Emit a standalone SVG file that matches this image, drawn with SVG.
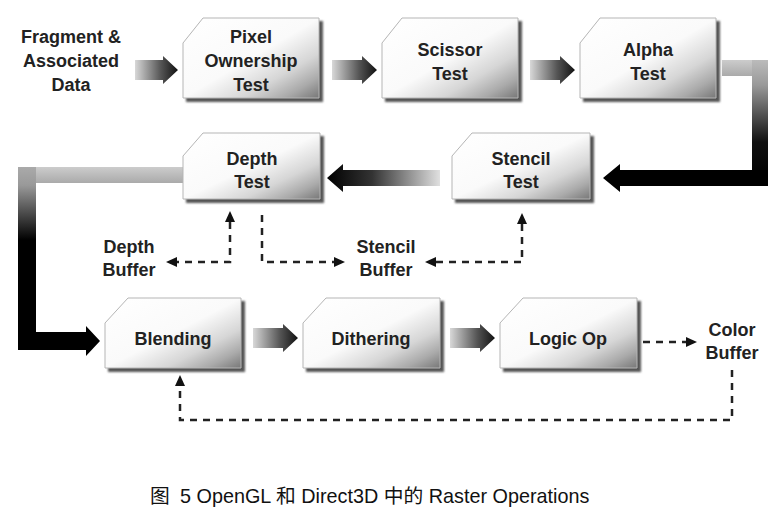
<svg xmlns="http://www.w3.org/2000/svg" width="783" height="515" viewBox="0 0 783 515">
<style>
.lbl{font-family:"Liberation Sans",Arial,sans-serif;font-weight:bold;font-size:18px;fill:#222;text-anchor:middle}
.box{fill:url(#boxg);stroke:#b5b5b5;stroke-width:1}
.shd{fill:#555;filter:url(#blur)}
.dash{fill:none;stroke:#222;stroke-width:2.5;stroke-dasharray:7 6}
.head{fill:#111}
.cap{font-family:"Liberation Sans","Noto Sans CJK SC",sans-serif;font-size:19.8px;fill:#111}
</style>
<defs>
<linearGradient id="boxg" x1="0" y1="0" x2="1" y2="1">
<stop offset="0" stop-color="#fff"/>
<stop offset="0.5" stop-color="#fafafa"/>
<stop offset="0.72" stop-color="#d6d6d6"/>
<stop offset="0.87" stop-color="#aaa"/>
<stop offset="1" stop-color="#777"/>
</linearGradient>
<linearGradient id="harr" x1="0" y1="0" x2="1" y2="0">
<stop offset="0" stop-color="#d8d8d8"/>
<stop offset="0.6" stop-color="#555"/>
<stop offset="1" stop-color="#111"/>
</linearGradient>
<linearGradient id="harrL" x1="1" y1="0" x2="0" y2="0">
<stop offset="0" stop-color="#e0e0e0"/>
<stop offset="0.6" stop-color="#333"/>
<stop offset="1" stop-color="#000"/>
</linearGradient>
<linearGradient id="vr" x1="0" y1="0" x2="0" y2="1">
<stop offset="0" stop-color="#bbb"/>
<stop offset="0.2" stop-color="#999"/>
<stop offset="0.65" stop-color="#111"/>
<stop offset="1" stop-color="#000"/>
</linearGradient>
<linearGradient id="vl" x1="0" y1="0" x2="0" y2="1">
<stop offset="0" stop-color="#aaa"/>
<stop offset="0.1" stop-color="#999"/>
<stop offset="0.4" stop-color="#000"/>
<stop offset="1" stop-color="#000"/>
</linearGradient>
<linearGradient id="topbar" x1="0" y1="0" x2="0" y2="1">
<stop offset="0" stop-color="#ccc"/>
<stop offset="1" stop-color="#aaa"/>
</linearGradient>
<filter id="blur" x="-10%" y="-10%" width="120%" height="120%"><feGaussianBlur stdDeviation="1.2"/></filter>
</defs>

<g id="connectors">
<path d="M135 60 H163 V56 L178 70 L163 84 V80 H135 Z" fill="url(#harr)"/>
<path d="M332 60 H362 V56 L377 70 L362 84 V80 H332 Z" fill="url(#harr)"/>
<path d="M530 60 H560 V56 L575 70 L560 84 V80 H530 Z" fill="url(#harr)"/>
<path d="M440 170 H343 V164 L327 178 L343 192 V186 H440 Z" fill="url(#harrL)"/>
<path d="M253 328 H283 V324 L298 338 L283 352 V348 H253 Z" fill="url(#harr)"/>
<path d="M450 328 H480 V324 L495 338 L480 352 V348 H450 Z" fill="url(#harr)"/>
<rect x="722" y="60" width="46" height="16" fill="url(#topbar)"/>
<rect x="752" y="60" width="16" height="126" fill="url(#vr)"/>
<path d="M768 170 V186 H620 V192 L603 178 L620 164 V170 Z" fill="#000"/>
<rect x="18" y="167" width="166" height="16" fill="url(#topbar)"/>
<rect x="18" y="167" width="18" height="183" fill="url(#vl)"/>
<path d="M18 332 H86 V326 L100 341 L86 356 V350 H18 Z" fill="#000"/>
<path class="dash" d="M230 222 V262 H176"/>
<path class="head" d="M230 211 L225 222 L235 222 Z"/>
<path class="head" d="M166 262 L177 257 L177 267 Z"/>
<path class="dash" d="M262 215 V262 H334"/>
<path class="head" d="M345 262 L334 257 L334 267 Z"/>
<path class="dash" d="M522 224 V262 H436"/>
<path class="head" d="M522 213 L517 224 L527 224 Z"/>
<path class="head" d="M425 262 L436 257 L436 267 Z"/>
<path class="dash" d="M643 342 H686"/>
<path class="head" d="M697 342 L686 337 L686 347 Z"/>
<path class="dash" d="M732 370 V420 H180 V386"/>
<path class="head" d="M180 375 L175 386 L185 386 Z"/>
</g>

<g id="fragment">
<text class="lbl" x="71" y="43">Fragment &amp;</text>
<text class="lbl" x="71" y="67">Associated</text>
<text class="lbl" x="71" y="91">Data</text>
</g>

<g id="pixel">
<path class="shd" d="M186 46 L206 21 H323 V102 H186 Z"/>
<path class="box" d="M183 43 L203 18 H319 V98 H183 Z"/>
<text class="lbl" x="251" y="43">Pixel</text>
<text class="lbl" x="251" y="67">Ownership</text>
<text class="lbl" x="251" y="91">Test</text>
</g>

<g id="scissor">
<path class="shd" d="M385 46 L405 21 H522 V102 H385 Z"/>
<path class="box" d="M382 43 L402 18 H518 V98 H382 Z"/>
<text class="lbl" x="450" y="56">Scissor</text>
<text class="lbl" x="450" y="80">Test</text>
</g>

<g id="alpha">
<path class="shd" d="M583 46 L603 21 H720 V102 H583 Z"/>
<path class="box" d="M580 43 L600 18 H716 V98 H580 Z"/>
<text class="lbl" x="648" y="56">Alpha</text>
<text class="lbl" x="648" y="80">Test</text>
</g>

<g id="stencil">
<path class="shd" d="M455 159 L475 136 H594 V203 H455 Z"/>
<path class="box" d="M452 156 L472 133 H590 V199 H452 Z"/>
<text class="lbl" x="521" y="165">Stencil</text>
<text class="lbl" x="521" y="188">Test</text>
</g>

<g id="depth">
<path class="shd" d="M186 159 L206 136 H324 V203 H186 Z"/>
<path class="box" d="M183 156 L203 133 H320 V199 H183 Z"/>
<text class="lbl" x="252" y="165">Depth</text>
<text class="lbl" x="252" y="188">Test</text>
</g>

<g id="depthbuffer">
<text class="lbl" x="129" y="253">Depth</text>
<text class="lbl" x="129" y="276">Buffer</text>
</g>

<g id="stencilbuffer">
<text class="lbl" x="386" y="253">Stencil</text>
<text class="lbl" x="386" y="276">Buffer</text>
</g>

<g id="blending">
<path class="shd" d="M108 326 L131 301 H245 V372 H108 Z"/>
<path class="box" d="M105 323 L128 298 H241 V368 H105 Z"/>
<text class="lbl" x="173" y="345">Blending</text>
</g>

<g id="dithering">
<path class="shd" d="M306 326 L329 301 H444 V372 H306 Z"/>
<path class="box" d="M303 323 L326 298 H440 V368 H303 Z"/>
<text class="lbl" x="371" y="345">Dithering</text>
</g>

<g id="logicop">
<path class="shd" d="M503 326 L526 301 H641 V372 H503 Z"/>
<path class="box" d="M500 323 L523 298 H637 V368 H500 Z"/>
<text class="lbl" x="568" y="345">Logic Op</text>
</g>

<g id="colorbuffer">
<text class="lbl" x="732" y="336">Color</text>
<text class="lbl" x="732" y="359">Buffer</text>
</g>

<g id="caption">
<text class="cap" x="150" y="503">图</text>
<text class="cap" x="180" y="503">5 OpenGL 和 Direct3D 中的 Raster Operations</text>
</g>
</svg>
